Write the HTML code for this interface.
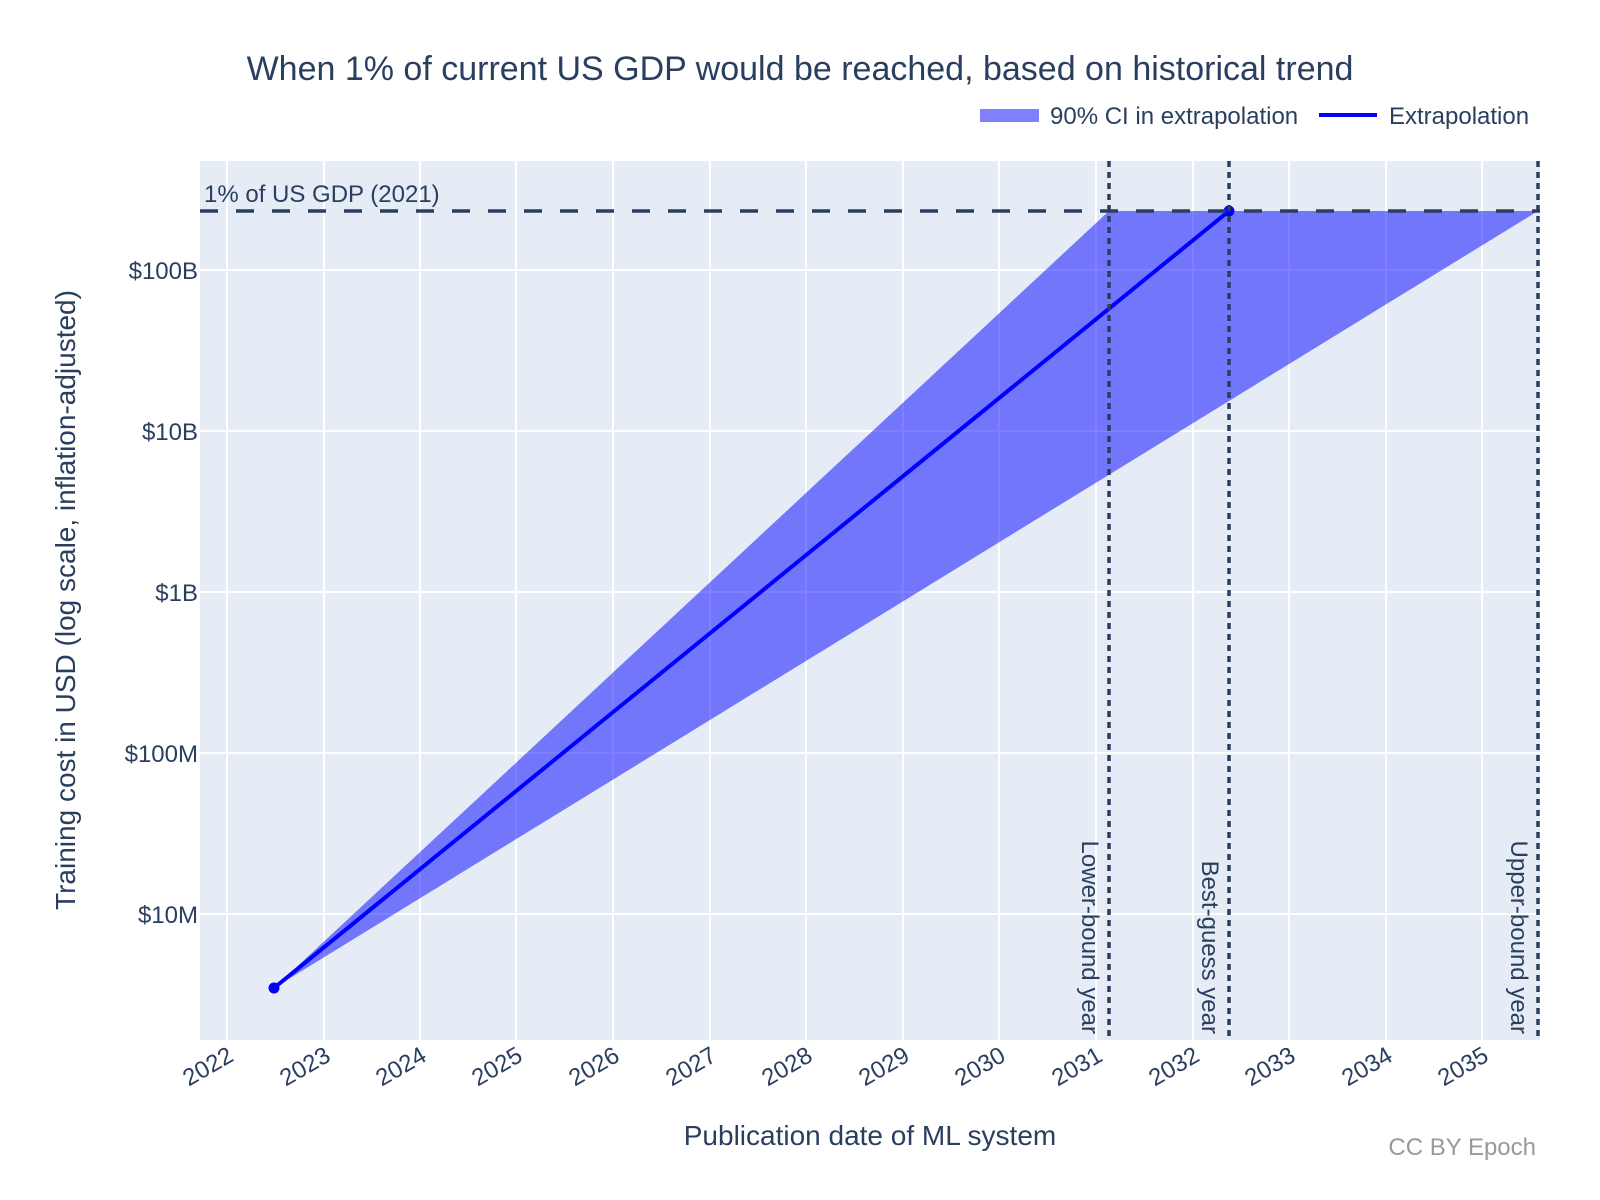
<!DOCTYPE html>
<html><head><meta charset="utf-8"><style>body{margin:0;background:#fff}svg{display:block}</style></head>
<body>
<svg width="1600" height="1200" xmlns="http://www.w3.org/2000/svg" font-family="Liberation Sans, Arial, sans-serif" fill="#2a3f5f">
<rect x="200" y="161" width="1340" height="879" fill="#E5ECF6"/>
<g stroke="#fff" stroke-width="2">
<line x1="227" y1="161" x2="227" y2="1040"/><line x1="324" y1="161" x2="324" y2="1040"/><line x1="420" y1="161" x2="420" y2="1040"/><line x1="516" y1="161" x2="516" y2="1040"/><line x1="613" y1="161" x2="613" y2="1040"/><line x1="710" y1="161" x2="710" y2="1040"/><line x1="806" y1="161" x2="806" y2="1040"/><line x1="903" y1="161" x2="903" y2="1040"/><line x1="999" y1="161" x2="999" y2="1040"/><line x1="1096" y1="161" x2="1096" y2="1040"/><line x1="1193" y1="161" x2="1193" y2="1040"/><line x1="1289" y1="161" x2="1289" y2="1040"/><line x1="1386" y1="161" x2="1386" y2="1040"/><line x1="1482" y1="161" x2="1482" y2="1040"/>
<line x1="200" y1="270" x2="1540" y2="270"/><line x1="200" y1="431" x2="1540" y2="431"/><line x1="200" y1="592" x2="1540" y2="592"/><line x1="200" y1="753" x2="1540" y2="753"/><line x1="200" y1="914" x2="1540" y2="914"/>
</g>
<polygon points="274,988 1109,211 1538,211" fill="#0000ff" fill-opacity="0.5"/>
<line x1="274" y1="988" x2="1229" y2="211" stroke="#0000ff" stroke-width="4"/>
<circle cx="274" cy="988" r="5.5" fill="#0000ff"/><circle cx="1229" cy="211" r="5.5" fill="#0000ff"/>
<line x1="200" y1="211" x2="1540" y2="211" stroke="#2a3f5f" stroke-width="3.5" stroke-dasharray="18,18"/>
<g stroke="#2a3f5f" stroke-width="3.5" stroke-dasharray="6,5">
<line x1="1109" y1="161" x2="1109" y2="1040"/><line x1="1229" y1="161" x2="1229" y2="1040"/><line x1="1538" y1="161" x2="1538" y2="1040"/>
</g>
<text x="204" y="202" font-size="24">1% of US GDP (2021)</text>
<g font-size="24" text-anchor="end">
<text transform="translate(1082,1034) rotate(90)">Lower-bound year</text>
<text transform="translate(1202,1034) rotate(90)">Best-guess year</text>
<text transform="translate(1511,1034) rotate(90)">Upper-bound year</text>
</g>
<g font-size="24" text-anchor="end">
<text x="198" y="279">$100B</text><text x="198" y="440">$10B</text><text x="198" y="601">$1B</text><text x="198" y="762">$100M</text><text x="198" y="923">$10M</text>
</g>
<g font-size="24" text-anchor="end">
<text transform="translate(235,1060) rotate(-30)">2022</text>
<text transform="translate(332,1060) rotate(-30)">2023</text>
<text transform="translate(428,1060) rotate(-30)">2024</text>
<text transform="translate(524,1060) rotate(-30)">2025</text>
<text transform="translate(621,1060) rotate(-30)">2026</text>
<text transform="translate(718,1060) rotate(-30)">2027</text>
<text transform="translate(814,1060) rotate(-30)">2028</text>
<text transform="translate(911,1060) rotate(-30)">2029</text>
<text transform="translate(1007,1060) rotate(-30)">2030</text>
<text transform="translate(1104,1060) rotate(-30)">2031</text>
<text transform="translate(1201,1060) rotate(-30)">2032</text>
<text transform="translate(1297,1060) rotate(-30)">2033</text>
<text transform="translate(1394,1060) rotate(-30)">2034</text>
<text transform="translate(1490,1060) rotate(-30)">2035</text>
</g>
<text x="800" y="80" font-size="34" text-anchor="middle">When 1% of current US GDP would be reached, based on historical trend</text>
<rect x="980" y="109" width="59" height="13" fill="#8080ff"/>
<text x="1050" y="124" font-size="24">90% CI in extrapolation</text>
<line x1="1319" y1="115" x2="1377" y2="115" stroke="#0000ff" stroke-width="4"/>
<text x="1389" y="124" font-size="24">Extrapolation</text>
<text transform="translate(75,600) rotate(-90)" font-size="28" text-anchor="middle">Training cost in USD (log scale, inflation-adjusted)</text>
<text x="870" y="1145" font-size="28" text-anchor="middle">Publication date of ML system</text>
<text x="1536" y="1155" font-size="24" text-anchor="end" fill="#999">CC BY Epoch</text>
</svg>
</body></html>
